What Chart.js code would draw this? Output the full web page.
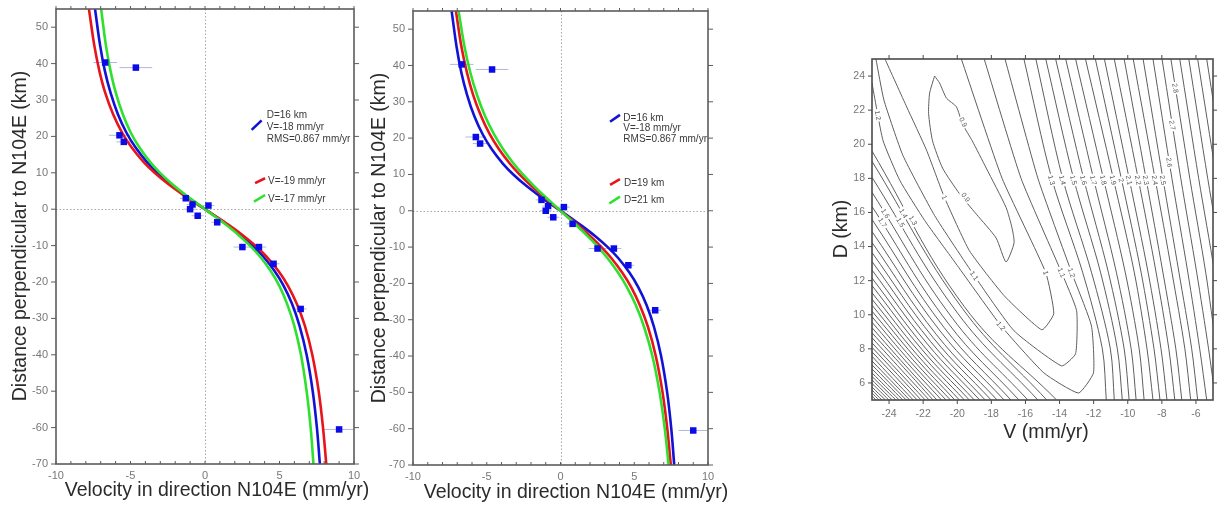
<!DOCTYPE html>
<html>
<head>
<meta charset="utf-8">
<title>Velocity profiles across N104E and misfit map</title>
<script src="https://cdn.jsdelivr.net/npm/chart.js@4.4.1/dist/chart.umd.min.js"></script>
<style>
  html, body { margin: 0; padding: 0; background: #fff; }
  body { position: relative; width: 1217px; height: 511px; overflow: hidden; }
  .panel { position: absolute; top: 0; height: 511px; }
</style>
</head>
<body>
<div class="panel" style="left:0;width:375px"><canvas id="profileV"></canvas></div>
<div class="panel" style="left:360px;width:375px"><canvas id="profileD"></canvas></div>
<div class="panel" style="left:800px;width:417px"><canvas id="misfit"></canvas></div>
<script>
// ---------------- profile data ----------------
// distance along the profile (km) where the model curves are sampled
const profileKm = [55, 45, 38, 32, 26, 21, 17, 13, 10, 7, 4, 2, 0, -2, -4, -7, -10, -13, -17, -21, -26, -32, -40, -50, -60, -70];

// model velocities (mm/yr), one array per locking depth / slip rate
const modelV18D16 = [-7.38, -7.04, -6.72, -6.34, -5.84, -5.27, -4.67, -3.91, -3.20, -2.36, -1.40, -0.71, 0, 0.71, 1.40, 2.36, 3.20, 3.91, 4.67, 5.27, 5.84, 6.34, 6.82, 7.23, 7.51, 7.71];
const modelV19D16 = [-7.79, -7.43, -7.09, -6.70, -6.16, -5.56, -4.93, -4.13, -3.38, -2.49, -1.48, -0.75, 0, 0.75, 1.48, 2.49, 3.38, 4.13, 4.93, 5.56, 6.16, 6.70, 7.20, 7.63, 7.92, 8.14];
const modelV17D16 = [-6.97, -6.65, -6.34, -5.99, -5.51, -4.98, -4.41, -3.69, -3.02, -2.23, -1.33, -0.67, 0, 0.67, 1.33, 2.23, 3.02, 3.69, 4.41, 4.98, 5.51, 5.99, 6.44, 6.82, 7.09, 7.28];
const modelV18D19 = [-7.09, -6.71, -6.34, -5.93, -5.38, -4.79, -4.18, -3.44, -2.78, -2.02, -1.19, -0.60, 0, 0.60, 1.19, 2.02, 2.78, 3.44, 4.18, 4.79, 5.38, 5.93, 6.46, 6.92, 7.24, 7.48];
const modelV18D21 = [-6.91, -6.50, -6.11, -5.67, -5.11, -4.50, -3.90, -3.18, -2.55, -1.84, -1.08, -0.54, 0, 0.54, 1.08, 1.84, 2.55, 3.18, 3.90, 4.50, 5.11, 5.67, 6.23, 6.72, 7.07, 7.33];

// GPS stations projected on the profile
const obsVel  = [-6.70, -4.64, -5.74, -5.45, -1.29, -0.84, -1.00, -0.49, 0.23, 0.82, 2.51, 3.62, 4.60, 6.42, 9.00];
const obsDist = [40.3, 38.9, 20.3, 18.5, 3.0, 1.3, 0.0, -1.8, 1.0, -3.6, -10.4, -10.4, -15.0, -27.4, -60.5];
const obsErr  = [0.8, 1.1, 0.7, 0.5, 0.4, 0.4, 0.4, 0.4, 0.4, 0.4, 0.6, 0.5, 0.4, 0.4, 1.0];

const velTicks  = [-10, -5, 0, 5, 10];
const distTicks = [-70, -60, -50, -40, -30, -20, -10, 0, 10, 20, 30, 40, 50];

// ---------------- misfit (RMS, mm/yr) contours ----------------
const misfitVTicks = [-24, -22, -20, -18, -16, -14, -12, -10, -8, -6];
const misfitDTicks = [6, 8, 10, 12, 14, 16, 18, 20, 22, 24];

// [V, D] vertices of the contours around the minimum (0.9 closed, then 1.0, 1.1, 1.2)
const rms09 = [[-21.33, 24.0], [-21.62, 23.0], [-21.68, 21.8], [-21.45, 20.2], [-20.86, 18.6], [-19.87, 17.1], [-18.88, 15.9], [-17.72, 14.5], [-17.14, 13.1],
  [-16.67, 14.2], [-16.79, 15.1], [-17.14, 16.3], [-18.30, 18.6], [-19.12, 20.2], [-19.70, 21.2], [-20.05, 22.2], [-20.63, 22.7], [-21.04, 23.6], [-21.33, 24.0]];
const rms10 = [[-24.24, 25], [-22.96, 22.18], [-21.80, 19.65], [-20.75, 16.88], [-19.29, 13.76], [-17.25, 11.12], [-15.04, 9.12],
  [-14.34, 10.06], [-14.81, 12.47], [-17.37, 18.0], [-19.76, 25]];
const rms11 = [[-24.77, 25], [-24.30, 22.59], [-23.19, 19.35], [-21.33, 15.82], [-19.0, 12.29], [-16.67, 9.06], [-13.88, 7.0],
  [-13.06, 7.71], [-13.0, 10.24], [-13.88, 12.47], [-16.26, 18.0], [-18.42, 25]];
const rms12 = [[-25, 23.59], [-24.36, 20.24], [-23.37, 17.88], [-21.91, 15.53], [-19.99, 12.88], [-17.43, 9.35], [-14.92, 6.59], [-12.89, 5.41],
  [-12.01, 6.59], [-12.13, 9.35], [-13.29, 12.47], [-15.27, 18.0], [-17.20, 25]];

// eastern branches 1.3 ... 3.2: V where each level crosses these depths
const eastD = [25, 18, 12.5, 8, 5];
const eastV = [
  [-16.09, -14.46, -12.65, -11.49, -11.26],
  [-15.39, -13.82, -12.13, -11.02, -10.79],
  [-14.81, -13.18, -11.60, -10.61, -10.32],
  [-14.23, -12.59, -11.14, -10.21, -9.92],
  [-13.64, -12.01, -10.67, -9.80, -9.51],
  [-13.06, -11.43, -10.15, -9.33, -9.04],
  [-12.48, -10.85, -9.62, -8.87, -8.52],
  [-11.90, -10.38, -9.22, -8.46, -8.11],
  [-11.37, -9.92, -8.81, -8.05, -7.70],
  [-10.79, -9.39, -8.34, -7.59, -7.24],
  [-10.21, -8.93, -7.94, -7.18, -6.83],
  [-9.68, -8.40, -7.41, -6.65, -6.31],
  [-9.10, -7.94, -7.00, -6.25, -5.90],
  [-8.52, -7.41, -6.48, -5.78, -5.37],
  [-7.99, -6.89, -5.96, -5.26, -4.85],
  [-7.47, -6.36, -5.43, -4.79, -4.32],
  [-6.95, -5.84, -4.91, -4.27, -3.80],
  [-6.42, -5.31, -4.38, -3.75, -3.30],
  [-5.90, -4.79, -3.86, -3.20, -2.80],
  [-5.37, -4.27, -3.34, -2.70, -2.30]
];

// south-western branches 1.3 upward: left edge, bend, bottom edge
const westLines = [
  [[-25, 19.60], [-19.58, 10.47], [-14.17, 5]],
  [[-25, 19.00], [-19.69, 10.36], [-14.75, 5]],
  [[-25, 18.06], [-19.97, 10.08], [-15.27, 5]],
  [[-25, 17.18], [-20.27, 9.78], [-15.86, 5]],
  [[-25, 16.35], [-20.54, 9.51], [-16.38, 5]],
  [[-25, 15.59], [-20.78, 9.26], [-16.85, 5]],
  [[-25, 14.88], [-21.00, 9.04], [-17.25, 5]],
  [[-25, 14.24], [-21.21, 8.82], [-17.66, 5]],
  [[-25, 13.65], [-21.40, 8.64], [-18.01, 5]],
  [[-25, 13.12], [-21.58, 8.45], [-18.36, 5]],
  [[-25, 12.62], [-21.75, 8.28], [-18.68, 5]],
  [[-25, 12.15], [-21.92, 8.11], [-19.00, 5]],
  [[-25, 11.71], [-22.07, 7.96], [-19.29, 5]],
  [[-25, 11.29], [-22.22, 7.81], [-19.58, 5]],
  [[-25, 10.91], [-22.36, 7.66], [-19.87, 5]],
  [[-25, 10.56], [-22.50, 7.53], [-20.14, 5]],
  [[-25, 10.21], [-22.63, 7.39], [-20.40, 5]],
  [[-25, 9.88], [-22.76, 7.26], [-20.66, 5]],
  [[-25, 9.56], [-22.89, 7.13], [-20.92, 5]],
  [[-25, 9.24], [-23.02, 7.00], [-21.19, 5]],
  [[-25, 8.94], [-23.13, 6.89], [-21.42, 5]],
  [[-25, 8.65], [-23.26, 6.75], [-21.65, 5]],
  [[-25, 8.35], [-23.39, 6.62], [-21.88, 5]],
  [[-25, 8.09], [-23.51, 6.50], [-22.12, 5]],
  [[-25, 7.82], [-23.64, 6.38], [-22.35, 5]],
  [[-25, 7.56], [-23.77, 6.25], [-22.58, 5]],
  [[-25, 7.29], [-23.88, 6.13], [-22.79, 5]],
  [[-25, 7.06], [-23.99, 6.02], [-22.99, 5]],
  [[-25, 6.82], [-24.10, 5.91], [-23.19, 5]],
  [[-25, 6.59], [-24.21, 5.80], [-23.40, 5]],
  [[-25, 6.38], [-24.31, 5.70], [-23.60, 5]],
  [[-25, 6.18], [-24.41, 5.59], [-23.81, 5]],
  [[-25, 5.97], [-24.51, 5.49], [-24.01, 5]],
  [[-25, 5.76], [-24.62, 5.39], [-24.21, 5]],
  [[-25, 5.59], [-24.71, 5.29], [-24.42, 5]],
  [[-25, 5.41], [-24.80, 5.21], [-24.59, 5]],
  [[-25, 5.24], [-24.88, 5.12], [-24.77, 5]]
];

// contour annotations: text, V, D, rotation (deg)
const contourLabels = [
  ['0.9', -19.65, 21.3, 65], ['0.9', -19.5, 16.9, 56], ['1', -20.75, 16.88, 67], ['1.2', -24.65, 21.7, 79],
  ['1.3', -22.59, 15.53, 59], ['1.4', -23.14, 15.94, 59], ['1.5', -23.33, 15.41, 59], ['1.6', -24.21, 15.94, 59], ['1.7', -24.38, 15.41, 59],
  ['1.1', -19.0, 12.29, 56], ['1.2', -17.43, 9.35, 50],
  ['1', -14.81, 12.47, 75], ['1.1', -13.88, 12.47, 67], ['1.2', -13.29, 12.47, 70],
  ['1.3', -14.46, 17.9, 74.5], ['1.4', -13.82, 17.9, 75.3], ['1.5', -13.18, 17.9, 75.5], ['1.6', -12.59, 17.9, 76],
  ['1.7', -12.01, 17.9, 76.5], ['1.8', -11.43, 17.9, 76.8], ['1.9', -10.85, 17.9, 77], ['2', -10.38, 17.9, 77.8],
  ['2.1', -9.92, 17.9, 78.3], ['2.2', -9.39, 17.9, 78.8], ['2.3', -8.93, 17.9, 79.6], ['2.4', -8.40, 17.9, 79.6], ['2.5', -7.94, 17.9, 80.4],
  ['2.6', -7.56, 18.94, 81], ['2.7', -7.38, 21.12, 81], ['2.8', -7.20, 23.29, 81]
];

// ---------------- drawing ----------------
const FONT = '"Liberation Sans", Arial, Helvetica, sans-serif';
Chart.defaults.font.family = FONT;
Chart.defaults.animation = false;

const minorVel = [];
for (let v = -10; v <= 10; v++) minorVel.push(v);

// frame, tick marks, zero lines, error bars, notes and axis titles
function decor(cfg) {
  return {
    id: 'decor',
    beforeDatasetsDraw(chart) {
      const {ctx, chartArea: a, scales: {x, y}} = chart;
      ctx.save();
      if (cfg.zero) {
        ctx.strokeStyle = '#8f8f8f';
        ctx.lineWidth = 0.8;
        ctx.setLineDash([1.5, 2]);
        const zx = Math.round(x.getPixelForValue(0)) + 0.5;
        const zy = Math.round(y.getPixelForValue(0)) + 0.5;
        ctx.beginPath();
        ctx.moveTo(zx, a.top); ctx.lineTo(zx, a.bottom);
        ctx.moveTo(a.left, zy); ctx.lineTo(a.right, zy);
        ctx.stroke();
        ctx.setLineDash([]);
      }
      if (cfg.errors) {
        ctx.strokeStyle = '#b2b8dc';
        ctx.lineWidth = 1;
        ctx.beginPath();
        obsVel.forEach((v, i) => {
          const py = y.getPixelForValue(obsDist[i]);
          ctx.moveTo(x.getPixelForValue(v - obsErr[i]), py);
          ctx.lineTo(x.getPixelForValue(v + obsErr[i]), py);
        });
        ctx.stroke();
      }
      ctx.restore();
    },
    afterDatasetsDraw(chart) {
      const {ctx, chartArea: a, scales: {x, y}} = chart;
      ctx.save();
      (cfg.labels || []).forEach(([t, v, d, ang]) => {
        ctx.save();
        ctx.translate(x.getPixelForValue(v), y.getPixelForValue(d));
        ctx.rotate(ang * Math.PI / 180);
        ctx.font = '7px ' + FONT;
        const w = ctx.measureText(t).width;
        ctx.fillStyle = '#fff';
        ctx.fillRect(-w / 2 - 1.5, -4, w + 3, 8);
        ctx.fillStyle = '#555';
        ctx.textAlign = 'center';
        ctx.textBaseline = 'middle';
        ctx.fillText(t, 0, 0.5);
        ctx.restore();
      });

      ctx.strokeStyle = cfg.frame;
      ctx.lineWidth = 1.6;
      ctx.strokeRect(a.left, a.top, a.right - a.left, a.bottom - a.top);

      ctx.lineWidth = 1;
      cfg.ticks.forEach(t => {
        ctx.beginPath();
        t.values.forEach(v => {
          if (t.side === 'left' || t.side === 'right') {
            const py = y.getPixelForValue(v);
            const x0 = t.side === 'left' ? a.left : a.right;
            const dir = t.side === 'left' ? -1 : 1;
            ctx.moveTo(x0, py); ctx.lineTo(x0 + dir * t.len, py);
          } else {
            const px = x.getPixelForValue(v);
            const y0 = t.side === 'top' ? a.top : a.bottom;
            const dir = t.side === 'top' ? -1 : 1;
            ctx.moveTo(px, y0); ctx.lineTo(px, y0 + dir * t.len);
          }
        });
        ctx.stroke();
      });

      (cfg.segs || []).forEach(s => {
        ctx.strokeStyle = s.color;
        ctx.lineWidth = 2.6;
        ctx.beginPath();
        ctx.moveTo(x.getPixelForValue(s.from[0]), y.getPixelForValue(s.from[1]));
        ctx.lineTo(x.getPixelForValue(s.to[0]), y.getPixelForValue(s.to[1]));
        ctx.stroke();
      });
      ctx.fillStyle = '#3a3a3a';
      ctx.font = '10px ' + FONT;
      ctx.textAlign = 'left';
      ctx.textBaseline = 'middle';
      (cfg.notes || []).forEach(([t, v, d]) => ctx.fillText(t, x.getPixelForValue(v), y.getPixelForValue(d)));

      ctx.fillStyle = '#2b2b2b';
      ctx.textAlign = 'center';
      ctx.textBaseline = 'alphabetic';
      cfg.titles.forEach(t => {
        ctx.save();
        ctx.font = t.size + 'px ' + FONT;
        ctx.translate(t.x, t.y);
        if (t.rot) ctx.rotate(t.rot * Math.PI / 180);
        ctx.fillText(t.text, 0, 0);
        ctx.restore();
      });
      ctx.restore();
    }
  };
}

function axis(min, max, ticks, pad, size, fit) {
  return {
    type: 'linear', min, max,
    afterBuildTicks: s => { s.ticks = ticks.map(v => ({value: v})); },
    ticks: {color: '#777', font: {size}, padding: pad},
    grid: {display: false, drawTicks: false},
    border: {display: false},
    afterFit: fit
  };
}

function profileChart(id, curves, box, legend, titles) {
  const datasets = [{
    data: obsVel.map((v, i) => ({x: v, y: obsDist[i]})),
    pointStyle: 'rect', pointRadius: 4.6, backgroundColor: '#0b0be8', borderWidth: 0, showLine: false
  }];
  curves.forEach(c => datasets.push({
    data: c.values.map((v, i) => ({x: v, y: profileKm[i]})),
    showLine: true, borderColor: c.color, borderWidth: 2.6, pointRadius: 0, tension: 0.35, clip: 0
  }));
  return new Chart(document.getElementById(id), {
    type: 'scatter',
    data: {datasets},
    options: {
      responsive: true, maintainAspectRatio: false, events: [],
      layout: {padding: box.pad},
      plugins: {legend: {display: false}, tooltip: {enabled: false}},
      scales: {
        x: axis(-10, 10, velTicks, 5, 11, s => { s.height = box.xh; s.paddingLeft = 0; s.paddingRight = 0; }),
        y: axis(-70, 55, distTicks, 8, 11, s => { s.width = box.yw; s.paddingTop = 0; s.paddingBottom = 0; })
      }
    },
    plugins: [decor({
      zero: true, errors: true, frame: '#5c5c5c',
      ticks: [
        {side: 'left', values: distTicks, len: 5}, {side: 'right', values: distTicks, len: 5},
        {side: 'top', values: minorVel, len: 3}, {side: 'bottom', values: minorVel, len: -3}
      ],
      segs: legend.segs, notes: legend.notes, titles
    })]
  });
}

const BLUE = '#1212d6', RED = '#e8141c', GREEN = '#2fe02f';

profileChart('profileV',
  [{values: modelV17D16, color: GREEN}, {values: modelV19D16, color: RED}, {values: modelV18D16, color: BLUE}],
  {pad: {left: 0, top: 9, right: 21, bottom: 0}, yw: 56, xh: 47},
  {
    segs: [
      {color: BLUE, from: [3.13, 21.8], to: [3.80, 24.4]},
      {color: RED, from: [3.36, 7.15], to: [4.03, 8.5]},
      {color: GREEN, from: [3.29, 2.1], to: [4.03, 3.9]}
    ],
    notes: [['D=16 km', 4.14, 25.8], ['V=-18 mm/yr', 4.14, 22.5], ['RMS=0.867 mm/yr', 4.14, 19.3],
      ['V=-19 mm/yr', 4.23, 7.6], ['V=-17 mm/yr', 4.23, 2.75]]
  },
  [
    {text: 'Distance perpendicular to N104E (km)', x: 26, y: 236, rot: -90, size: 19.5},
    {text: 'Velocity in direction N104E (mm/yr)', x: 217, y: 496, size: 19.5}
  ]);

profileChart('profileD',
  [{values: modelV18D21, color: GREEN}, {values: modelV18D19, color: RED}, {values: modelV18D16, color: BLUE}],
  {pad: {left: 0, top: 11, right: 27, bottom: 0}, yw: 53, xh: 46},
  {
    segs: [
      {color: BLUE, from: [3.36, 24.5], to: [4.03, 26.4]},
      {color: RED, from: [3.36, 7.1], to: [4.03, 8.7]},
      {color: GREEN, from: [3.31, 2.0], to: [4.03, 3.9]}
    ],
    notes: [['D=16 km', 4.26, 25.6], ['V=-18 mm/yr', 4.26, 22.7], ['RMS=0.867 mm/yr', 4.26, 19.7],
      ['D=19 km', 4.3, 7.7], ['D=21 km', 4.3, 2.95]]
  },
  [
    {text: 'Distance perpendicular to N104E (km)', x: 25, y: 238, rot: -90, size: 19.5},
    {text: 'Velocity in direction N104E (mm/yr)', x: 216, y: 498, size: 19.5}
  ]);

// misfit map
const line = (pts, tension) => ({
  data: pts.map(([v, d]) => ({x: v, y: d})),
  showLine: true, borderColor: '#5e5e5e', borderWidth: 1, pointRadius: 0, tension, clip: 0
});
const misfitSets = [
  line(rms09, 0.2), line(rms10, 0.15), line(rms11, 0.15), line(rms12, 0.15),
  ...eastV.map(row => line(row.map((v, i) => [v, eastD[i]]), 0.3)),
  ...westLines.map(pts => line(pts, 0.4))
];

new Chart(document.getElementById('misfit'), {
  type: 'scatter',
  data: {datasets: misfitSets},
  options: {
    responsive: true, maintainAspectRatio: false, events: [],
    layout: {padding: {left: 0, top: 59, right: 4, bottom: 0}},
    plugins: {legend: {display: false}, tooltip: {enabled: false}},
    scales: {
      x: axis(-25, -5, misfitVTicks, 8, 10.5, s => { s.height = 111; s.paddingLeft = 0; s.paddingRight = 0; }),
      y: axis(5, 25, misfitDTicks, 7, 10.5, s => { s.width = 72; s.paddingTop = 0; s.paddingBottom = 0; })
    }
  },
  plugins: [decor({
    frame: '#4a4a4a', labels: contourLabels,
    ticks: [
      {side: 'left', values: misfitDTicks, len: 4}, {side: 'right', values: misfitDTicks, len: 4},
      {side: 'top', values: misfitVTicks, len: 4}, {side: 'bottom', values: misfitVTicks, len: 4}
    ],
    titles: [
      {text: 'D (km)', x: 47, y: 229, rot: -90, size: 19.5},
      {text: 'V (mm/yr)', x: 246, y: 438, size: 19.5}
    ]
  })]
});
</script>
</body>
</html>
